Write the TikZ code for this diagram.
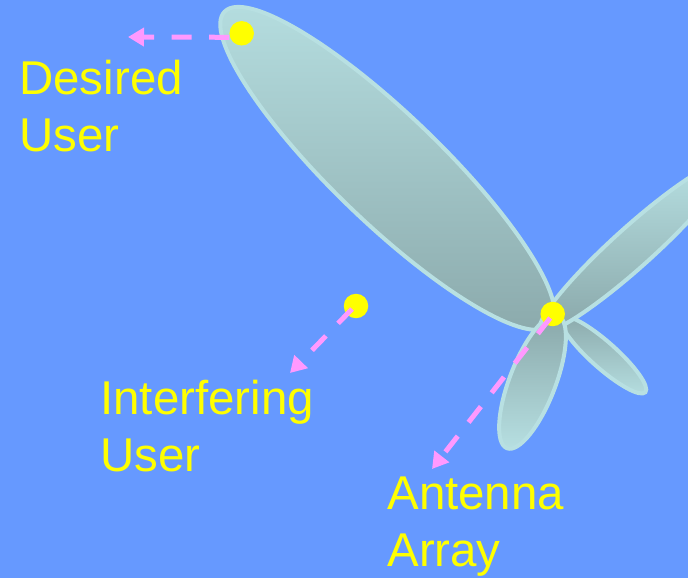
\documentclass[tikz,border=0pt]{standalone}
\usepackage{fontspec}
\setmainfont{Liberation Sans}
\usetikzlibrary{arrows.meta,positioning}
\definecolor{skyBg}{HTML}{6699FF}
\definecolor{lobeLight}{HTML}{B6DFE1}
\definecolor{lobeDark}{HTML}{8AA8AA}
\definecolor{lobeEdge}{HTML}{B8E0E2}
\definecolor{dotYellow}{HTML}{FFFF00}
\definecolor{pointerPink}{HTML}{FF99FF}

\begin{document}
\begin{tikzpicture}[x=0.02cm,y=0.02cm,
  lobe/.style={draw=lobeEdge,line width=0.08cm,top color=lobeLight,bottom color=lobeDark},
  lobeup/.style={draw=lobeEdge,line width=0.08cm,top color=lobeDark,bottom color=lobeLight},
  userdot/.style={circle,fill=dotYellow,inner sep=0pt,minimum size=0.49cm},
  pointer/.style={pointerPink,line width=0.1cm,dash pattern=on 0.4cm off 0.35cm,
                  -{Triangle[length=0.32cm,width=0.36cm]}},
  caption/.style={text=dotYellow,inner sep=0pt,anchor=base west,align=left,
                  font=\fontsize{27}{32.4}\selectfont}]
  \fill[skyBg] (0,0) rectangle (688,578);
  \useasboundingbox (0,0) rectangle (688,578);

  % beam pattern: main lobe and side lobes
  \shade[lobe,rotate around={-43.9:(387.4,409.6)}] (387.4,409.6) ellipse [x radius=226,y radius=54];
  \shade[lobeup,rotate around={-41.7:(603.5,223)}] (603.5,223) ellipse [x radius=56,y radius=13];
  \begin{scope}
    \clip (0,0) rectangle (688,578);
    \shade[lobe,rotate around={42:(633.5,331)}] (633.5,331) ellipse [x radius=125,y radius=20];
  \end{scope}
  \shade[lobeup,rotate around={68.9:(532.5,196)}] (532.5,196) ellipse [x radius=71,y radius=23];

  % users and array
  \node[userdot] (desired) at (241.7,544.7) {};
  \node[userdot] (interferer) at (356,272) {};
  \node[userdot] (array) at (552.7,264) {};

  \coordinate (desiredTip) at (128,541);
  \coordinate (interfererTip) at (290,205);
  \coordinate (arrayTip) at (432,109);

  \draw[pointer] ([yshift=-0.08cm]desired.west) -- (desiredTip);
  \draw[pointer] ([shift={(-0.08cm,-0.06cm)}]interferer.center) -- (interfererTip);
  \draw[pointer] ([shift={(-0.05cm,-0.08cm)}]array.center) -- (arrayTip);

  % base anchor sits on the last line
  \node[caption] (desiredText) at (19,426.3) {Desired\\User};
  \node[caption] (interfererText) at (100,106.3) {Interfering\\User};
  \node[caption] (arrayText) at (387,12) {Antenna\\Array};
\end{tikzpicture}
\end{document}
